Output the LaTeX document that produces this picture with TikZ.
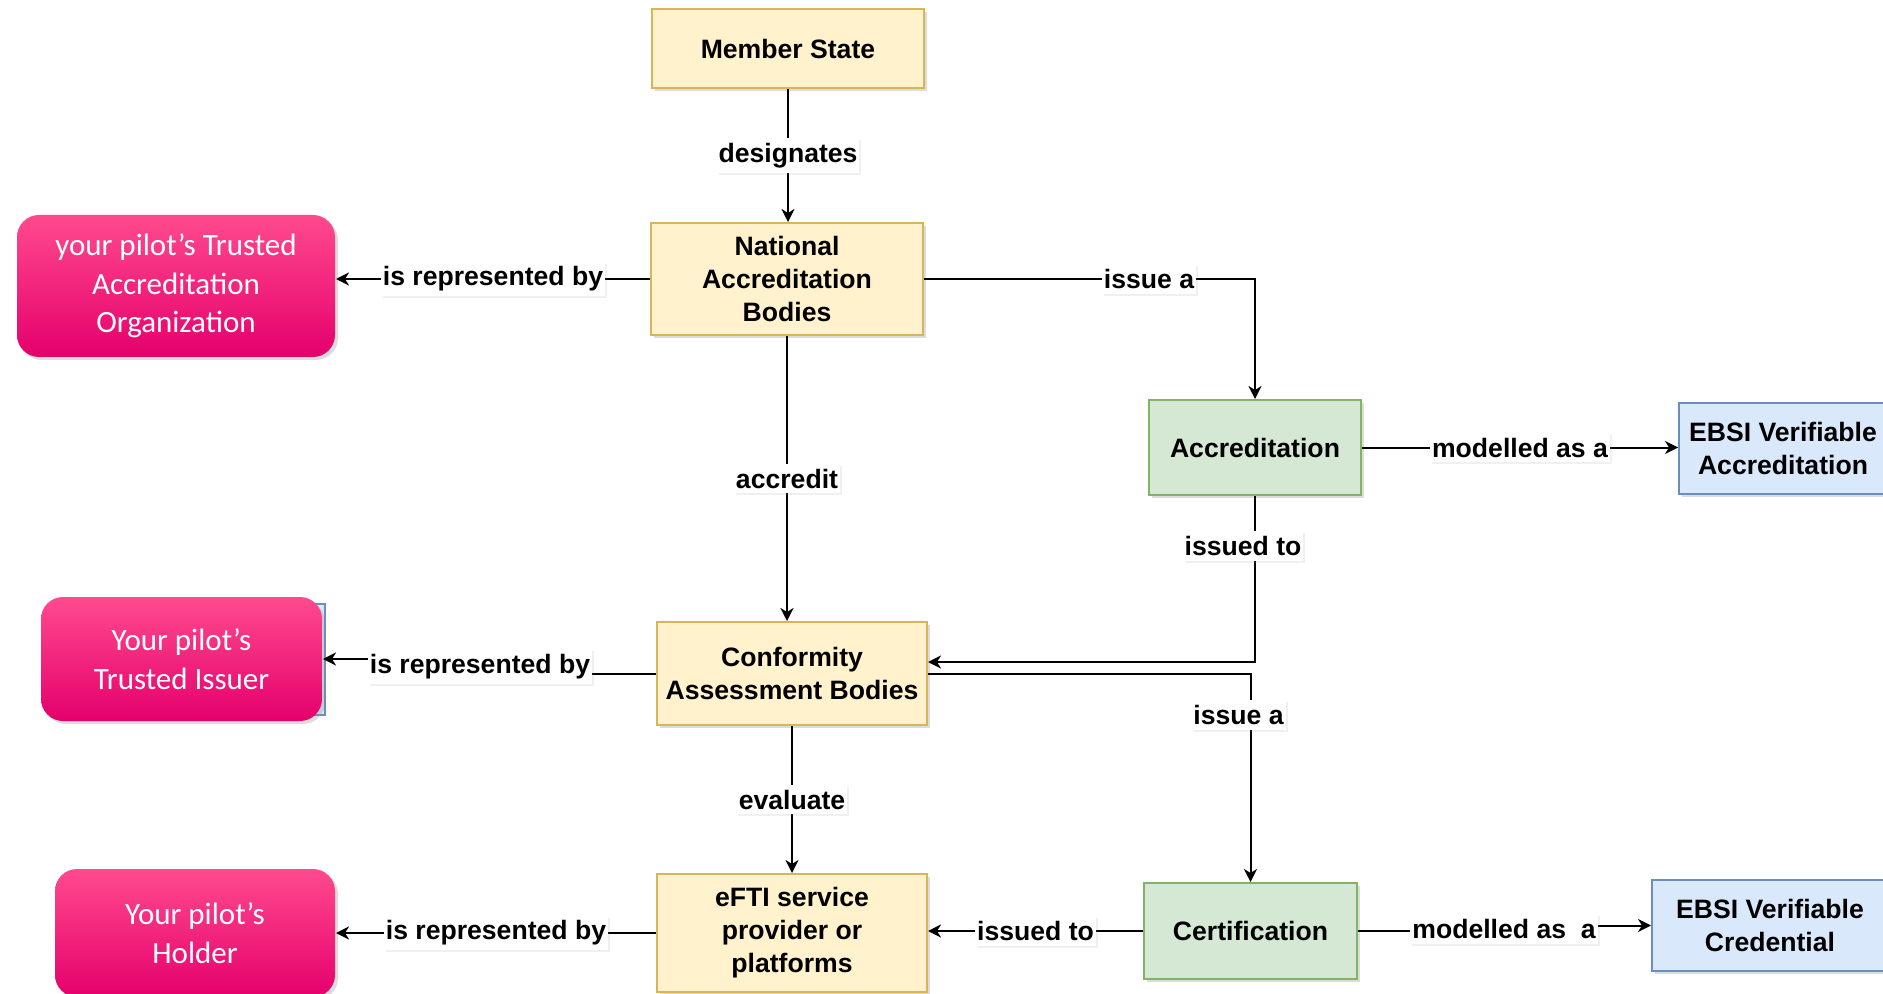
\documentclass[tikz,border=0pt]{standalone}
\usepackage{fontspec}
\setmainfont{Liberation Sans}
\newfontfamily\pilotfamily{Carlito}
\usetikzlibrary{arrows.meta,shadows}
\definecolor{orgfill}{HTML}{FFF2CC}
\definecolor{orgline}{HTML}{D6B656}
\definecolor{awardfill}{HTML}{D5E8D4}
\definecolor{awardline}{HTML}{82B366}
\definecolor{credfill}{HTML}{DAE8FC}
\definecolor{credline}{HTML}{6C8EBF}
\definecolor{pinktop}{HTML}{FF4A8E}
\definecolor{pinkmid}{HTML}{FF0077}
\definecolor{pinkbot}{HTML}{E5006C}
\newcommand\lblfont{\bfseries\fontsize{13.3}{16.5}\selectfont}
\newcommand\pilottext{\pilotfamily\fontsize{15.5}{19.2}\selectfont}
\begin{document}
\begin{tikzpicture}[x=0.5pt,y=-0.5pt,line width=1pt,
    >={Stealth[length=6.5pt,width=6.5pt,inset=2pt]},
    shade/.style={drop shadow={shadow xshift=1.5pt,shadow yshift=-1.5pt,opacity=0.3,fill=black!45}},
    org/.style={rectangle,draw=orgline,fill=orgfill,align=center,font=\lblfont,shade},
    award/.style={rectangle,draw=awardline,fill=awardfill,align=center,font=\lblfont,shade},
    cred/.style={rectangle,draw=credline,fill=credfill,align=center,font=\lblfont,shade},
    trust/.style={rectangle,rounded corners=11pt,top color=pinktop,middle color=pinkmid,bottom color=pinkbot,
      text=white,align=center,font=\pilottext,shade},
    lbl/.style={fill=white,inner xsep=1pt,inner ysep=2.5pt,font=\lblfont,
      drop shadow={shadow xshift=1pt,shadow yshift=-1pt,opacity=0.15,fill=black!40}}]
    \useasboundingbox (0,0) rectangle (1883,994);
    % bodies
    \node[org,minimum width=136pt,minimum height=39.5pt] (ms) at (788,48.5) {Member State};
    \node[org,minimum width=136pt,minimum height=56pt] (nab) at (787,279) {National\\Accreditation\\Bodies};
    \node[org,minimum width=135pt,minimum height=51.5pt] (cab) at (792,673.5) {Conformity\\Assessment Bodies};
    \node[org,minimum width=135pt,minimum height=59pt] (eft) at (792,933) {eFTI service\\provider or\\platforms};
    % documents
    \node[award,minimum width=106pt,minimum height=47.5pt] (acc) at (1255,447.5) {Accreditation};
    \node[award,minimum width=106.5pt,minimum height=48pt] (cert) at (1250.5,931) {Certification};
    \node[cred,minimum width=104pt,minimum height=45.5pt] (eva) at (1783,448.5) {EBSI Verifiable\\Accreditation};
    \node[cred,minimum width=118pt,minimum height=45.5pt] (evc) at (1770,925.5) {EBSI Verifiable\\Credential};
    % pilot roles
    \draw[draw=credline,fill=credfill,line width=0.6pt] (60,604) rectangle (325,715);
    \node[trust,minimum width=159pt,minimum height=71pt] (tao) at (176,286) {your pilot’s Trusted\\Accreditation\\Organization};
    \node[trust,minimum width=140.5pt,minimum height=62pt] (ti) at (181.5,659) {Your pilot’s\\Trusted Issuer};
    \node[trust,minimum width=140pt,minimum height=64pt] (hol) at (195,933) {Your pilot’s\\Holder};
    % arrows
    \draw[->] (ms.south) -- node[lbl]{designates} (ms.south |- nab.north);
    \draw[->] (nab.west) -- node[lbl]{is represented by} (nab.west -| tao.east);
    \draw[->] (nab.east) -| node[lbl,pos=0.34]{issue a} (acc.north);
    \draw[->] (acc.east) -- node[lbl]{modelled as a} (acc.east -| eva.west);
    \draw[->] (nab.south) -- node[lbl]{accredit} (nab.south |- cab.north);
    \draw[->] (acc.south) |- node[lbl,pos=0.15,xshift=-6pt]{issued to} ([yshift=5.75pt]cab.east);
    \draw[->] (cab.east) -| node[lbl,pos=0.6,xshift=-6pt]{issue a} (cert.north);
    \coordinate (j1) at (480,666.5);
    \draw[->] (cab.west) -| (j1) node[lbl]{is represented by} |- (ti.east);
    \draw[->] (cab.south) -- node[lbl]{evaluate} (eft.north);
    \draw[->] (cert.west) -- node[lbl]{issued to} (cert.west -| eft.east);
    \coordinate (j2) at (1504,929);
    \draw[->] (cert.east) -| (j2) node[lbl]{modelled as~~a} |- (evc.west);
    \draw[->] (eft.west) -- node[lbl]{is represented by} (eft.west -| hol.east);
\end{tikzpicture}
\end{document}
